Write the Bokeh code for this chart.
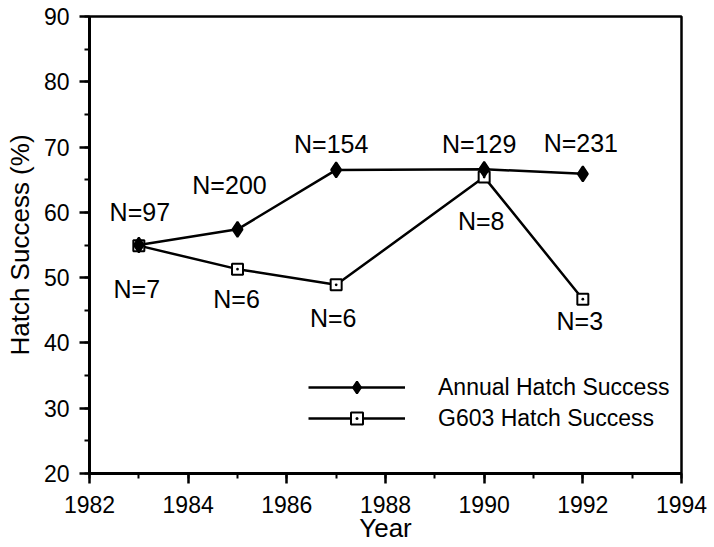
from bokeh.plotting import figure
from bokeh.models import Range1d, SingleIntervalTicker, ColumnDataSource, Legend, LegendItem
from bokeh.core.properties import value
from bokeh.embed import file_html
from bokeh.resources import INLINE

years = [1983, 1985, 1987, 1990, 1992]
annual = [55.0, 57.4, 66.5, 66.6, 65.9]
g603 = [54.9, 51.3, 48.9, 65.4, 46.7]
annual_n = ["N=97", "N=200", "N=154", "N=129", "N=231"]
g603_n = ["N=7", "N=6", "N=6", "N=8", "N=3"]

FONT = "Liberation Sans"

p = figure(width=714, height=547, output_backend="svg", toolbar_location=None,
           x_range=Range1d(1982, 1994), y_range=Range1d(20, 90),
           min_border_left=89, min_border_right=33, min_border_top=16, min_border_bottom=74)
p.grid.visible = False
p.outline_line_color = "black"
p.outline_line_width = 2.5
p.background_fill_color = "white"
p.border_fill_color = "white"

# axes
p.xaxis.ticker = SingleIntervalTicker(interval=2, num_minor_ticks=2)
p.yaxis.ticker = SingleIntervalTicker(interval=10, num_minor_ticks=2)
for ax in (p.xaxis[0], p.yaxis[0]):
    ax.axis_line_width = 3
    ax.axis_line_color = "black"
    ax.major_tick_line_width = 2.5
    ax.minor_tick_line_width = 2
    ax.major_tick_out = 10
    ax.major_tick_in = 0
    ax.minor_tick_out = 5
    ax.minor_tick_in = 0
    ax.major_label_text_font = FONT
    ax.major_label_text_font_size = "23px"
    ax.major_label_text_color = "black"
    ax.axis_label_text_font = FONT
    ax.axis_label_text_font_size = "26px"
    ax.axis_label_text_font_style = "normal"
    ax.axis_label_text_color = "black"
p.xaxis.axis_label = "Year"
p.yaxis.axis_label = "Hatch Success (%)"
p.xaxis.major_label_standoff = 12
p.yaxis.major_label_standoff = 10
p.xaxis.axis_label_standoff = -3
p.yaxis.axis_label_standoff = 6

src_a = ColumnDataSource(dict(x=years, y=annual, lab=annual_n,
                              dx=[1, -8, -5, -5, -2], dy=[-33, -44, -26, -25, -31]))
src_g = ColumnDataSource(dict(x=years, y=g603, lab=g603_n,
                              dx=[-2, -1, -3, -3, -3], dy=[43, 30, 33, 44, 22]))

la = p.line("x", "y", source=src_a, line_color="black", line_width=2.5)
lg = p.line("x", "y", source=src_g, line_color="black", line_width=2.5)
mg = p.scatter("x", "y", source=src_g, marker="square_dot", size=11,
               fill_color="white", line_color="black", line_width=2)
ma = p.scatter("x", "y", source=src_a, marker="diamond", size=15,
               fill_color="black", line_color="black", line_width=2)

for src in (src_a, src_g):
    p.text("x", "y", text="lab", source=src, x_offset="dx", y_offset="dy",
           text_align="center", text_baseline="middle",
           text_font=value(FONT), text_font_size="25px", text_color="black")

legend = Legend(items=[LegendItem(label="Annual Hatch Success", renderers=[la, ma]),
                       LegendItem(label="G603 Hatch Success", renderers=[lg, mg])],
                location=(219, 40), border_line_color=None, background_fill_alpha=0,
                padding=0, margin=0, spacing=1, glyph_width=97, glyph_height=30,
                label_height=30, label_standoff=33,
                label_text_font=FONT, label_text_font_size="23px", label_text_color="black")
p.add_layout(legend)

open("out.html", "w").write(file_html(p, INLINE))
